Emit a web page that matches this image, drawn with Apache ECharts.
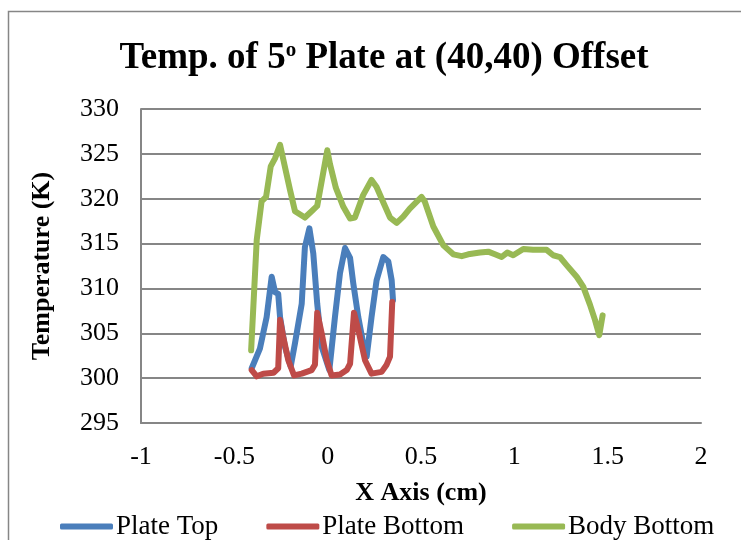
<!DOCTYPE html>
<html>
<head>
<meta charset="utf-8">
<script src="https://cdn.jsdelivr.net/npm/echarts@6/dist/echarts.min.js"></script>
<style>
  html, body { margin: 0; padding: 0; background: #fff; }
  #chart { width: 741px; height: 540px; }
</style>
</head>
<body>
<div id="chart"></div>
<script>
// Plate Top temperature trace (x in cm, T in K)
const plateTopX = [-0.407, -0.363, -0.327, -0.300, -0.282, -0.265, -0.255, -0.229, -0.198, -0.175, -0.139, -0.122, -0.098, -0.077, -0.056, -0.032, 0.009, 0.039, 0.066, 0.093, 0.120, 0.137, 0.164, 0.190, 0.209, 0.235, 0.262, 0.298, 0.325, 0.343, 0.350];
const plateTopY = [301.1, 303.3, 306.8, 311.3, 309.6, 309.4, 306.8, 303.5, 301.3, 303.9, 308.3, 314.6, 316.7, 313.9, 308.3, 303.5, 300.9, 306.8, 311.7, 314.5, 313.4, 310.6, 306.8, 303.9, 302.4, 306.8, 310.9, 313.5, 313.0, 310.9, 308.7];

// Plate Bottom temperature trace
const plateBottomX = [-0.407, -0.380, -0.345, -0.290, -0.265, -0.255, -0.238, -0.211, -0.180, -0.139, -0.086, -0.068, -0.056, -0.032, -0.005, 0.021, 0.066, 0.102, 0.120, 0.141, 0.164, 0.200, 0.235, 0.289, 0.316, 0.334, 0.346];
const plateBottomY = [300.9, 300.2, 300.5, 300.6, 301.1, 306.5, 304.6, 302.0, 300.3, 300.5, 300.9, 301.5, 307.3, 305.0, 302.0, 300.3, 300.4, 300.9, 301.6, 307.3, 305.4, 302.0, 300.5, 300.7, 301.5, 302.4, 308.5];

// Body Bottom temperature trace
const bodyBottomX = [-0.410, -0.380, -0.354, -0.330, -0.305, -0.282, -0.255, -0.237, -0.202, -0.175, -0.122, -0.086, -0.056, -0.002, 0.012, 0.044, 0.084, 0.120, 0.146, 0.190, 0.235, 0.262, 0.300, 0.334, 0.370, 0.405, 0.440, 0.503, 0.520, 0.566, 0.620, 0.673, 0.718, 0.753, 0.816, 0.860, 0.896, 0.932, 0.962, 0.994, 1.048, 1.100, 1.173, 1.208, 1.244, 1.280, 1.334, 1.369, 1.405, 1.432, 1.455, 1.473];
const bodyBottomY = [303.1, 315.4, 319.7, 320.2, 323.6, 324.5, 326.0, 324.3, 321.0, 318.6, 317.9, 318.6, 319.2, 325.4, 323.9, 321.2, 319.1, 317.8, 317.9, 320.4, 322.1, 321.3, 319.5, 317.9, 317.3, 318.0, 318.9, 320.2, 319.7, 316.9, 314.8, 313.8, 313.6, 313.8, 314.0, 314.1, 313.8, 313.5, 314.0, 313.7, 314.4, 314.3, 314.3, 313.7, 313.5, 312.6, 311.3, 310.2, 308.2, 306.5, 304.8, 307.0];

const seriesNames = ['Plate Top', 'Plate Bottom', 'Body Bottom'];
const seriesColors = ['#4A7EBB', '#BE4B48', '#98B954'];

const zip = (xs, ys) => xs.map((x, i) => [x, ys[i]]);
const traces = [
  zip(plateTopX, plateTopY),
  zip(plateBottomX, plateBottomY),
  zip(bodyBottomX, bodyBottomY)
];

const serif = '"Liberation Serif", "Times New Roman", serif';
const gridGrey = '#868686';

const chart = echarts.init(document.getElementById('chart'));
chart.setOption({
  backgroundColor: '#fff',
  animation: false,
  graphic: [{
    type: 'rect',
    shape: { x: 8.5, y: 11.5, width: 800, height: 600 },
    style: { fill: 'none', stroke: gridGrey, lineWidth: 1.5 },
    silent: true
  }],
  title: {
    text: 'Temp. of 5{sup|o} Plate at (40,40) Offset',
    left: 379,
    textAlign: 'center',
    top: 35,
    textStyle: {
      fontFamily: serif,
      fontSize: 37,
      fontWeight: 'bold',
      color: '#000',
      rich: {
        sup: {
          fontFamily: serif,
          fontSize: 21,
          fontWeight: 'bold',
          color: '#000',
          verticalAlign: 'top',
          padding: [0, 0, 12, 0]
        }
      }
    }
  },
  legend: {
    data: seriesNames,
    left: 55,
    top: 508,
    itemWidth: 53,
    itemHeight: 6,
    itemGap: 48,
    icon: 'roundRect',
    textStyle: { fontFamily: serif, fontSize: 27, color: '#000', padding: [0, 0, 0, -2] }
  },
  grid: {
    left: 141,
    right: 40,
    top: 109,
    bottom: 117,
    containLabel: false,
    outerBoundsMode: 'none'
  },
  xAxis: {
    type: 'value',
    min: -1,
    max: 2,
    interval: 0.5,
    name: 'X Axis (cm)',
    nameLocation: 'middle',
    nameGap: 57,
    nameTextStyle: { fontFamily: serif, fontSize: 26, fontWeight: 'bold', color: '#000' },
    axisLine: { show: true, onZero: false, lineStyle: { color: gridGrey, width: 2 } },
    axisTick: { show: false },
    splitLine: { show: false },
    axisLabel: { fontFamily: serif, fontSize: 26, color: '#000', margin: 21 }
  },
  yAxis: {
    type: 'value',
    min: 295,
    max: 330,
    interval: 5,
    name: 'Temperature (K)',
    nameLocation: 'middle',
    nameGap: 86,
    nameTextStyle: { fontFamily: serif, fontSize: 26, fontWeight: 'bold', color: '#000' },
    axisLine: { show: true, onZero: false, lineStyle: { color: gridGrey, width: 2 } },
    axisTick: { show: false },
    splitLine: { show: true, lineStyle: { color: gridGrey, width: 2 } },
    axisLabel: { fontFamily: serif, fontSize: 26, color: '#000', margin: 22 }
  },
  series: seriesNames.map((name, i) => ({
    name,
    type: 'line',
    data: traces[i],
    showSymbol: false,
    symbol: 'none',
    color: seriesColors[i],
    lineStyle: { width: 6, color: seriesColors[i], cap: 'round', join: 'round' },
    z: 2 + i
  }))
});
</script>
</body>
</html>
